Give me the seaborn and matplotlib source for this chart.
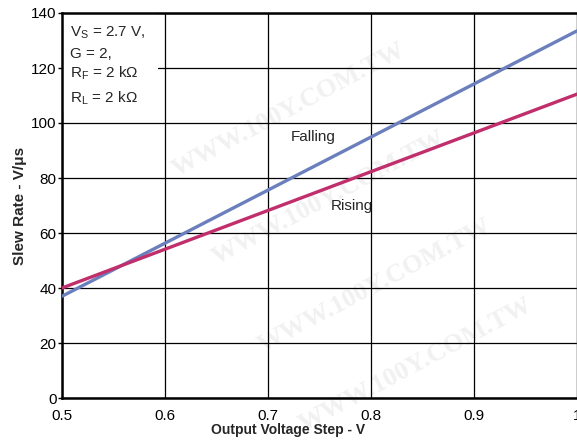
import matplotlib
matplotlib.use("Agg")
import matplotlib.pyplot as plt
import seaborn as sns
import pandas as pd
from matplotlib.patches import Rectangle

x_step = [0.5, 1.0]
falling = [37.0, 133.5]
rising = [40.0, 110.5]
x_ticks = [0.5, 0.6, 0.7, 0.8, 0.9, 1.0]
x_tick_labels = ["0.5", "0.6", "0.7", "0.8", "0.9", "1"]
y_ticks = [0, 20, 40, 60, 80, 100, 120, 140]

sns.set_theme(style="white")
plt.rcParams['font.family'] = ['Liberation Sans', 'DejaVu Sans']
plt.rcParams['mathtext.fontset'] = 'custom'
plt.rcParams['mathtext.rm'] = 'Liberation Sans'
plt.rcParams['mathtext.it'] = 'Liberation Sans'

df = pd.DataFrame({
    "x": x_step * 2,
    "y": falling + rising,
    "series": ["Falling"] * 2 + ["Rising"] * 2,
})

fig = plt.figure(figsize=(5.77, 4.40), dpi=100)
ax = fig.add_axes([62 / 577, 1 - 398 / 440, 1 - 62 / 577, (398 - 13) / 440])
ax.set_zorder(1)
ax.patch.set_alpha(0)

# faint watermark behind the plot
wm_pos = [(0.50, 0.75), (0.57, 0.55), (0.65, 0.35), (0.72, 0.17)]
for fx, fy in wm_pos:
    fig.text(fx, fy, "WWW.100Y.COM.TW", fontsize=19, fontweight="bold",
             family="Liberation Serif", color="#f1f1f1", rotation=28,
             ha="center", va="center", zorder=0)

sns.lineplot(data=df, x="x", y="y", hue="series",
             palette={"Falling": "#6b7fbd", "Rising": "#c02f6c"},
             linewidth=2.4, legend=False, ax=ax, zorder=3)

ax.set_xlim(0.5, 1.0)
ax.set_ylim(0, 140)
ax.set_xticks(x_ticks)
ax.set_xticklabels(x_tick_labels)
ax.set_yticks(y_ticks)
ax.grid(True, color="black", linewidth=0.9)
ax.set_axisbelow(True)
ax.tick_params(axis="both", labelsize=11, colors="black")
ax.tick_params(axis="y", left=True, length=3, width=1, pad=1)
ax.tick_params(axis="x", bottom=False, pad=2)
for s in ["left", "bottom", "top"]:
    ax.spines[s].set_color("black")
    ax.spines[s].set_linewidth(1.8)
ax.spines["right"].set_color("#888888")
ax.spines["right"].set_linewidth(1.0)

ax.set_xlabel("Output Voltage Step - V", fontsize=10, fontweight="bold")
ax.xaxis.set_label_coords((288 - 62) / 515, -0.066)
ax.set_ylabel("Slew Rate - V/\u03bcs", fontsize=11, fontweight="bold")
ax.yaxis.set_label_coords(-0.068, 0.5)

# white box with conditions
ax.add_patch(Rectangle((0.5, 104), 0.093, 36, transform=ax.transData,
                       facecolor="white", edgecolor="none", zorder=2))
ax.text(0.508, 135.8, "V$_\\mathregular{S}$ = 2.7 V,", fontsize=11, va="top", zorder=4)
ax.text(0.508, 127.8, "G = 2,", fontsize=11, va="top", zorder=4)
ax.text(0.508, 121.2, "R$_\\mathregular{F}$ = 2 k\u03a9", fontsize=11, va="top", zorder=4)
ax.text(0.508, 112.3, "R$_\\mathregular{L}$ = 2 k\u03a9", fontsize=11, va="top", zorder=4)

ax.text(0.744, 95, "Falling", fontsize=11, ha="center", va="center", zorder=4)
ax.text(0.781, 70, "Rising", fontsize=11, ha="center", va="center", zorder=4)

fig.savefig("out.png", dpi=100)
